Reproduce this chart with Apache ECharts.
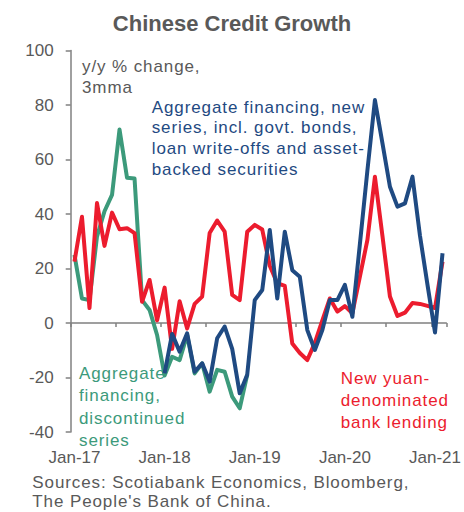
<!DOCTYPE html>
<html>
<head>
<meta charset="utf-8">
<script src="https://cdn.jsdelivr.net/npm/echarts@6/dist/echarts.min.js"></script>
<style>
  html, body { margin: 0; padding: 0; background: #fff; }
  #chart { width: 464px; height: 512px; }
  /* annotation text is set a little looser than the axis labels */
  #chart svg text { letter-spacing: 0.9px; }
  #chart svg text[text-anchor="middle"],
  #chart svg text[text-anchor="end"] { letter-spacing: 0; }
</style>
</head>
<body>
<div id="chart"></div>
<script>
// Monthly axis: Jan-17 through Feb-21
const MONTHS = ['Jan','Feb','Mar','Apr','May','Jun','Jul','Aug','Sep','Oct','Nov','Dec'];
const YEARS = ['17','18','19','20','21'];
const N_MONTHS = 50;

// y/y % change, 3mma
// New yuan-denominated bank lending
const newYuanLending = [
  22.5, 39, 5.5, 44, 28.3, 40.5, 34.4, 34.8, 33, 7.8, 15.8, 1,
  13, -9.5, 8, -2, 7, 9.7, 33, 37.6, 33.5, 10.3, 8.4, 33.5,
  36, 34.3, 21, 14.6, 13.6, -7.5, -11, -13.6, -7.3, 1, 9, 4.2,
  6.2, 3.6, 17, 30.5, 53.7, 32, 9.7, 2.6, 3.8, 7.3, 7, 6.3,
  5.5, 22.5
];
// Aggregate financing, new series (starts Jan-18)
const aggFinNew = [
  null, null, null, null, null, null, null, null, null, null, null, null,
  -18.5, -4, -10.5, -3.8, -17.9, -14.8, -21.5, -5.6, -1.3, -9.5, -25.8, -19,
  8.4, 12.1, 34.1, 9, 33.5, 19.4, 17, -2.6, -9.9, -2.6, 8.4, 8.4,
  14, 2.3, 29, 56, 81.8, 66, 50, 42.7, 43.9, 53.7, 32, 14,
  -3.5, 25.6
];
// Aggregate financing, discontinued series (ends Dec-18)
const aggFinOld = [
  25, 9, 8.4, 31.7, 41, 47, 71, 53.3, 53, 8.4, 4.8, -4.4,
  -19.3, -12.4, -13.6, -4.4, -18.5, -14.8, -25.2, -17.2, -17.9, -27, -31.3, -19
];

const Y_MIN = -40, Y_MAX = 100, Y_STEP = 20;

const categories = [];
for (let i = 0; i < N_MONTHS; i++) {
  categories.push(MONTHS[i % 12] + '-' + YEARS[Math.floor(i / 12)]);
}

const GRAY = '#595959';
const AXIS = '#808080';
const RED = '#EC1C2E';
const BLUE = '#1F4A82';
const GREEN = '#3C9A7B';
const FONT = '"Liberation Sans", Arial, sans-serif';

const chart = echarts.init(document.getElementById('chart'), null, { renderer: 'svg' });

function lineSeries(name, data, color, z) {
  return {
    name, type: 'line', data, xAxisIndex: 0, yAxisIndex: 0,
    showSymbol: false, symbol: 'none', connectNulls: false,
    lineStyle: { color, width: 4, join: 'round' },
    itemStyle: { color }, z, animation: false
  };
}

function text(str, x, y, size, color, lineHeight, extra) {
  return Object.assign({
    type: 'text', x, y, silent: true,
    style: {
      text: str, fill: color, font: size + 'px ' + FONT, lineHeight,
      textVerticalAlign: 'top', verticalAlign: 'top', textAlign: 'left', align: 'left'
    }
  }, extra || {});
}

chart.setOption({
  animation: false,
  grid: { left: 70.7, right: 17.3, top: 50.5, bottom: 80, containLabel: false },
  xAxis: [
    {
      type: 'category', data: categories, boundaryGap: true,
      axisLine: { onZero: true, lineStyle: { color: AXIS, width: 1.5 } },
      axisTick: { show: true, interval: 5, length: 4, inside: false, lineStyle: { color: AXIS, width: 1.5 } },
      axisLabel: { show: false },
      splitLine: { show: false }
    },
    {
      type: 'category', data: categories, boundaryGap: true, position: 'bottom',
      axisLine: { show: false, onZero: false },
      axisTick: { show: false },
      axisLabel: { interval: 11, margin: 17, color: GRAY, fontSize: 17, fontFamily: FONT },
      splitLine: { show: false }
    }
  ],
  yAxis: {
    type: 'value', min: Y_MIN, max: Y_MAX, interval: Y_STEP,
    axisLine: { show: true, lineStyle: { color: AXIS, width: 1.5 } },
    axisTick: { show: true, length: 5, lineStyle: { color: AXIS, width: 1.5 } },
    axisLabel: { margin: 17, color: GRAY, fontSize: 17, fontFamily: FONT },
    splitLine: { show: false }
  },
  series: [
    lineSeries('Aggregate financing, discontinued series', aggFinOld, GREEN, 2),
    lineSeries('New yuan-denominated bank lending', newYuanLending, RED, 3),
    lineSeries('Aggregate financing, new series', aggFinNew, BLUE, 4)
  ],
  graphic: [
    text('Chinese Credit Growth', 232, 12, 22, GRAY, 22, {
      style: {
        text: 'Chinese Credit Growth', fill: GRAY, font: 'bold 22px ' + FONT,
        textAlign: 'center', align: 'center', textVerticalAlign: 'top', verticalAlign: 'top'
      }
    }),
    text('y/y % change,\n3mma', 82, 56.3, 17, GRAY, 20.8),
    text('Aggregate financing, new\nseries, incl. govt. bonds,\nloan write-offs and asset-\nbacked securities', 151.7, 96.9, 17, BLUE, 20.7),
    text('Aggregate\nfinancing,\ndiscontinued\nseries', 79, 362.7, 17, GREEN, 22.2),
    text('New yuan-\ndenominated\nbank lending', 340.7, 368, 17, RED, 21.7),
    text("Sources: Scotiabank Economics, Bloomberg,\nThe People's Bank of China.", 32.3, 473, 17, GRAY, 19)
  ]
});
</script>
</body>
</html>
